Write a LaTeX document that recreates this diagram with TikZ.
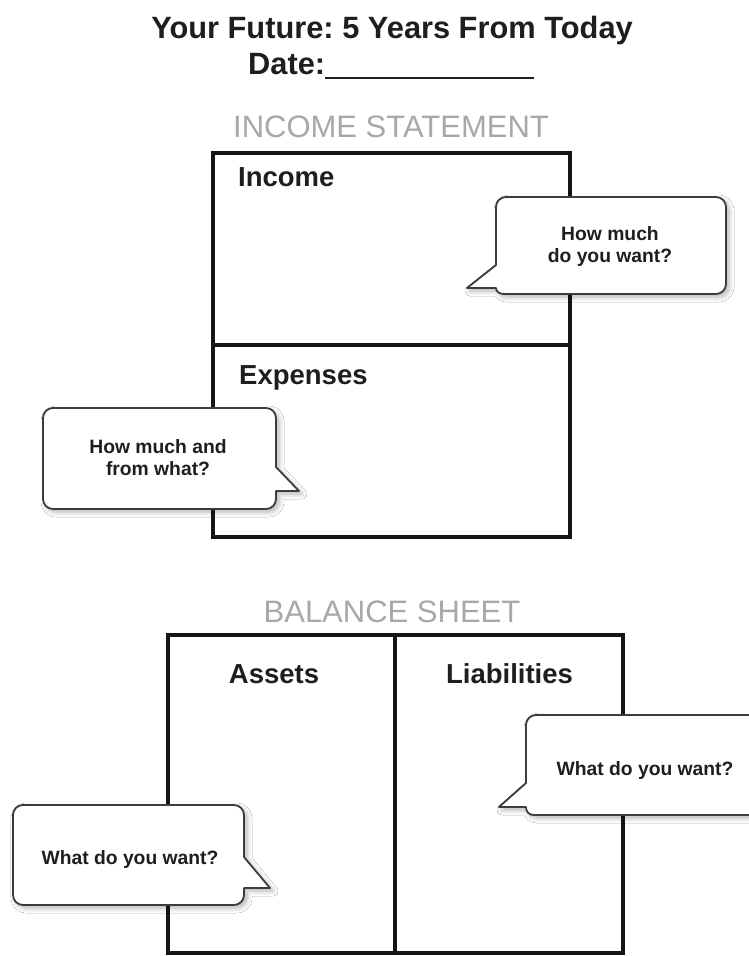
\documentclass[tikz,border=0pt]{standalone}
\usepackage{fontspec}
\setmainfont{Liberation Sans}
\usetikzlibrary{shadows.blur}
\frenchspacing
\definecolor{headgray}{HTML}{A8A8A8}
\definecolor{boxline}{HTML}{151515}
\definecolor{bubline}{HTML}{3C3C3C}
\definecolor{ink}{HTML}{1E1E1E}
\tikzset{
  frame/.style={draw=boxline, line width=3.6pt, line cap=rect},
  bubble/.style={draw=bubline, fill=white, line width=1.8pt, line join=round,
    blur shadow={shadow xshift=3pt, shadow yshift=-3pt, shadow opacity=30, shadow blur steps=6, shadow blur radius=5pt}},
  bubtext/.style={font=\bfseries\fontsize{19.3}{22}\selectfont, text=ink, align=center, inner sep=0pt},
  heading/.style={font=\bfseries\fontsize{27.5}{30}\selectfont, text=ink, inner sep=0pt, anchor=base},
  section/.style={font=\fontsize{31}{34}\selectfont, text=headgray, inner sep=0pt, anchor=base},
  titletext/.style={font=\bfseries\fontsize{30.8}{34}\selectfont, text=ink, inner sep=0pt}
}
\begin{document}
\begin{tikzpicture}[x=1pt, y=-1pt]
\clip (0,0) rectangle (749,956);
\fill[white] (0,0) rectangle (749,956);

% titles
\node[titletext, anchor=base] (title) at (392,38) {Your Future: 5 Years From Today};
\node[titletext, anchor=base west] (date) at (248,74) {Date:\rule[-5pt]{209pt}{1.8pt}};

% income statement
\node[section] (isHead) at (391,137) {INCOME STATEMENT};
\draw[frame] (213,153) rectangle (570,537);
\draw[frame] (213,345) -- (570,345);
\node[heading, anchor=base west] (income) at (238,186) {Income};
\node[heading, anchor=base west] (expenses) at (239,384) {Expenses};

% balance sheet
\node[section] (bsHead) at (392,622) {BALANCE SHEET};
\draw[frame] (168,635) rectangle (623,953);
\draw[frame] (395,635) -- (395,953);
\node[heading] (assets) at (274,683) {Assets};
\node[heading] (liab) at (509.5,683) {Liabilities};

% bubble 1 (tail left)
\draw[bubble] (496,265) -- (496,207) .. controls (496,201.5) and (500.5,197) .. (506,197)
  -- (716,197) .. controls (721.5,197) and (726,201.5) .. (726,207)
  -- (726,284) .. controls (726,289.5) and (721.5,294) .. (716,294)
  -- (504,294) .. controls (499,294) and (496,291.5) .. (496,288)
  -- (467,288) -- cycle;
\node[bubtext, anchor=base] (b1) at (610,262) {How much\\do you want?};

% bubble 2 (tail right)
\draw[bubble] (276,467) -- (276,418) .. controls (276,412.5) and (271.5,408) .. (266,408)
  -- (53,408) .. controls (47.5,408) and (43,412.5) .. (43,418)
  -- (43,499) .. controls (43,504.5) and (47.5,509) .. (53,509)
  -- (266,509) .. controls (271.5,509) and (276,504.5) .. (276,499)
  -- (276,491) -- (299,491) -- cycle;
\node[bubtext, anchor=base] (b2) at (158,475) {How much and\\from what?};

% bubble 3 (tail right)
\draw[bubble] (244,857) -- (244,815) .. controls (244,809.5) and (239.5,805) .. (234,805)
  -- (23,805) .. controls (17.5,805) and (13,809.5) .. (13,815)
  -- (13,895) .. controls (13,900.5) and (17.5,905) .. (23,905)
  -- (234,905) .. controls (239.5,905) and (244,900.5) .. (244,895)
  -- (244,888) -- (270,888) -- cycle;
\node[bubtext, anchor=base] (b3) at (130,864) {What do you want?};

% bubble 4 (tail left)
\draw[bubble] (526,783) -- (526,725) .. controls (526,719.5) and (530.5,715) .. (536,715)
  -- (760,715) .. controls (765.5,715) and (770,719.5) .. (770,725)
  -- (770,805) .. controls (770,810.5) and (765.5,815) .. (760,815)
  -- (534,815) .. controls (529,815) and (526,812) .. (526,807)
  -- (499,807) -- cycle;
\node[bubtext, anchor=base] (b4) at (645,775) {What do you want?};
\end{tikzpicture}
\end{document}
